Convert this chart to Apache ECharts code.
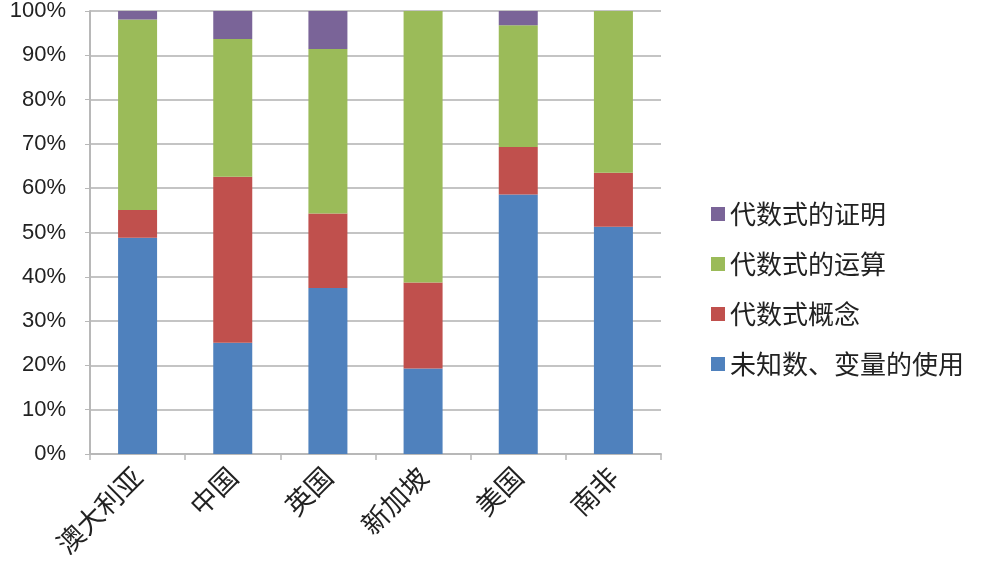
<!DOCTYPE html>
<html><head><meta charset="utf-8">
<script src="https://cdn.jsdelivr.net/npm/echarts@6/dist/echarts.min.js"></script>
<style>html,body{margin:0;padding:0;background:#fff}#c{width:981px;height:574px}</style>
</head><body><div id="c"></div>
<script>
const categories = ['澳大利亚','中国','英国','新加坡','美国','南非'];
const seriesNames = ['未知数、变量的使用','代数式概念','代数式的运算','代数式的证明'];
const unknownUse = [48.8, 25.1, 37.5, 19.3, 58.6, 51.3];
const concept = [6.3, 37.5, 16.8, 19.4, 10.7, 12.2];
const operation = [43.0, 31.1, 37.1, 61.3, 27.5, 36.5];
const proof = [1.9, 6.3, 8.6, 0, 3.2, 0];
const yTicks = [0,10,20,30,40,50,60,70,80,90,100];
const colors = ['#4F81BD','#C0504D','#9BBB59','#7A6498'];
const values = [unknownUse, concept, operation, proof];

const chart = echarts.init(document.getElementById('c'));
chart.setOption({
  animation:false,
  grid:{left:90,top:11,right:320,bottom:120},
  legend:{
    orient:'vertical', left:706, top:196, itemGap:24,
    itemWidth:14, itemHeight:14, icon:'rect',
    data:[seriesNames[3],seriesNames[2],seriesNames[1],seriesNames[0]],
    textStyle:{fontSize:26,color:'#222',fontFamily:'"Noto Sans CJK SC"'}
  },
  xAxis:{
    type:'category', data:categories,
    axisLine:{lineStyle:{color:'#b8b8b8',width:2}},
    axisTick:{show:true,length:6,lineStyle:{color:'#b8b8b8',width:1.5}},
    axisLabel:{rotate:45,margin:18,fontSize:27,color:'#222',fontFamily:'"Noto Sans CJK SC"'}
  },
  yAxis:{
    type:'value', min:yTicks[0], max:yTicks[yTicks.length-1], interval:10,
    axisLine:{show:true,lineStyle:{color:'#b8b8b8',width:2}},
    axisTick:{show:true,length:5,lineStyle:{color:'#b8b8b8'}},
    splitLine:{lineStyle:{color:'#c4c4c4',width:2}},
    axisLabel:{formatter:'{value}%',fontSize:22,margin:24,color:'#222',fontFamily:'"Liberation Sans", Arial'}
  },
  series: values.map((v,i)=>({
    name:seriesNames[i], type:'bar', stack:'total', barWidth:39,
    itemStyle:{color:colors[i]}, data:v
  }))
});
</script></body></html>
